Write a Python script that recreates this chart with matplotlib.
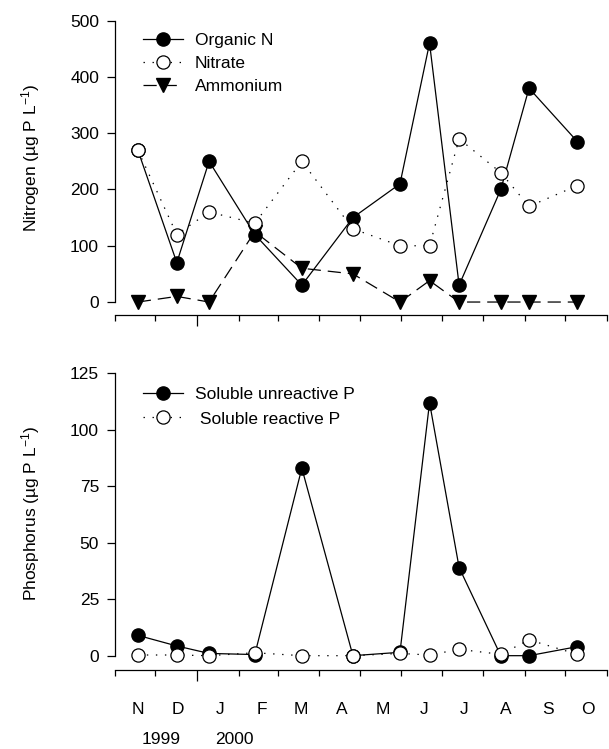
import datetime
import matplotlib
matplotlib.use('Agg')
import matplotlib.pyplot as plt
import matplotlib.dates as mdates
import matplotlib.transforms as mtransforms

plt.rcParams['font.family'] = ['Liberation Sans', 'DejaVu Sans']
plt.rcParams['mathtext.default'] = 'regular'
plt.rcParams['lines.scale_dashes'] = False

sample_dates = ['1999-11-18', '1999-12-17', '2000-01-10', '2000-02-13', '2000-03-19', '2000-04-26',
                '2000-05-31', '2000-06-22', '2000-07-14', '2000-08-14', '2000-09-04', '2000-10-10']

# nitrogen, ug/L
organic_n = [270, 70, 250, 120, 30, 150, 210, 460, 30, 200, 380, 285]
nitrate = [270, 120, 160, 140, 250, 130, 100, 100, 290, 230, 170, 207]
ammonium = [0, 10, 0, 125, 60, 50, 0, 38, 0, 0, 0, 0]

# phosphorus, ug/L
sup = [9, 4.3, 1, 0.5, 83, 0, 1.5, 112, 39, 0, 0, 4]
srp = [0.3, 0.3, 0, 1.3, 0, 0, 1, 0.3, 2.8, 0.6, 7, 0.6]

month_letters = ['N', 'D', 'J', 'F', 'M', 'A', 'M', 'J', 'J', 'A', 'S', 'O']
year_labels = [('1999', '1999-12-05'), ('2000', '2000-01-29')]

dates = [datetime.datetime.strptime(d, '%Y-%m-%d') for d in sample_dates]
month_starts = [datetime.datetime(1999 + (10 + i) // 12, (10 + i) % 12 + 1, 1) for i in range(13)]
month_mids = [m.replace(day=18) for m in month_starts[:-1]]

FS = 12.5
fig = plt.figure(figsize=(6.09, 7.49), dpi=100)
ax1 = fig.add_axes([0.1888, 0.5794, 0.8079, 0.3930])
ax2 = fig.add_axes([0.1888, 0.1055, 0.8079, 0.3961])

filled = dict(marker='o', markersize=9.5, markerfacecolor='black', markeredgecolor='black',
              color='black', linewidth=0.9, clip_on=False)
hollow = dict(marker='o', markersize=9.5, markerfacecolor='white', markeredgecolor='black',
              markeredgewidth=0.9, color='black', linewidth=0.9, clip_on=False)

# top panel
ax1.plot(dates, ammonium, marker='v', markersize=9.5, color='black', linewidth=0.9,
         dashes=(9.5, 5), label='Ammonium', clip_on=False, zorder=2)
ax1.plot(dates, organic_n, label='Organic N', zorder=3, **filled)
ax1.plot(dates, nitrate, dashes=(1, 5.5), label='Nitrate', zorder=4, **hollow)
ax1.set_ylim(-23.1, 500)
ax1.set_yticks([0, 100, 200, 300, 400, 500])
ax1.spines['left'].set_bounds(0, 500)
ax1.set_ylabel('Nitrogen (µg P L$^{-1}$)', fontsize=FS)
ax1.yaxis.set_label_coords(-0.149, 0.535)
h, l = ax1.get_legend_handles_labels()
order = [1, 2, 0]
ax1.legend([h[i] for i in order], [l[i] for i in order], loc='upper left',
           bbox_to_anchor=(0.057, 0.957), frameon=False, fontsize=FS, numpoints=1,
           handlelength=2.3, handletextpad=0.7, labelspacing=0.45,
           borderpad=0, borderaxespad=0)

# bottom panel
ax2.plot(dates, sup, label='Soluble unreactive P', zorder=3, **filled)
ax2.plot(dates, srp, dashes=(1, 5.5), label=' Soluble reactive P', zorder=4, **hollow)
ax2.set_ylim(-6.33, 125)
ax2.set_yticks([0, 25, 50, 75, 100, 125])
ax2.spines['left'].set_bounds(0, 125)
ax2.set_ylabel('Phosphorus (µg P L$^{-1}$)', fontsize=FS)
ax2.yaxis.set_label_coords(-0.149, 0.526)
ax2.legend(loc='upper left', bbox_to_anchor=(0.057, 0.955), frameon=False, fontsize=FS,
           numpoints=1, handlelength=2.3, handletextpad=0.7, labelspacing=0.55,
           borderpad=0, borderaxespad=0)

for ax in (ax1, ax2):
    ax.set_xlim(month_starts[0], month_starts[-1])
    ax.spines['top'].set_visible(False)
    ax.spines['right'].set_visible(False)
    for s in ('left', 'bottom'):
        ax.spines[s].set_linewidth(0.9)
    ax.tick_params(axis='y', direction='out', length=5.5, width=0.9, pad=6, labelsize=FS)
    ax.set_xticks(month_starts)
    ax.set_xticklabels([])
    ax.tick_params(axis='x', which='major', direction='out', length=4.3, width=0.9)
    for t, m in zip(ax.xaxis.get_major_ticks(), month_starts):
        if m.month == 1:
            t.tick1line.set_markersize(8)

ax2.set_xticks(month_mids, minor=True)
ax2.set_xticklabels(month_letters, minor=True)
ax2.tick_params(axis='x', which='minor', length=0, pad=23, labelsize=FS)

trans = mtransforms.blended_transform_factory(ax2.transData, ax2.transAxes)
for txt, d in year_labels:
    ax2.text(mdates.date2num(datetime.datetime.strptime(d, '%Y-%m-%d')), -0.236, txt,
             transform=trans, ha='center', va='center', fontsize=FS)

fig.savefig('out.png', dpi=100)
